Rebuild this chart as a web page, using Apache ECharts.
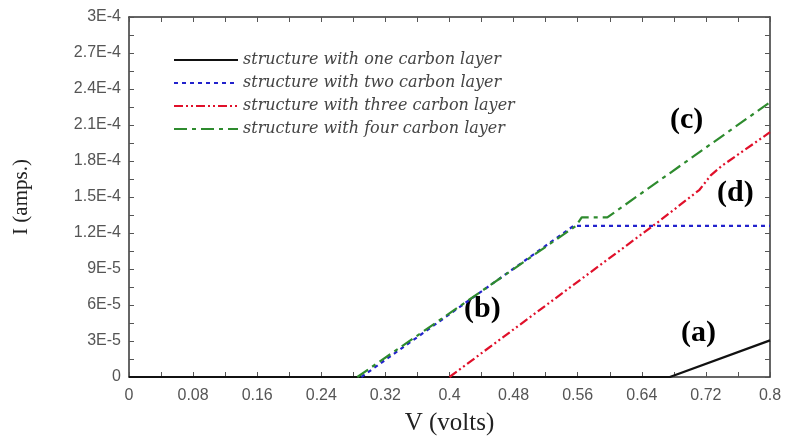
<!DOCTYPE html>
<html>
<head>
<meta charset="utf-8">
<script src="https://cdn.jsdelivr.net/npm/echarts@6/dist/echarts.min.js"></script>
<style>
  html, body { margin: 0; padding: 0; background: #fff; }
  #chart { width: 787px; height: 437px; }
</style>
</head>
<body>
<div id="chart"></div>
<script>
// values, [V, I]
var oneLayer = [[0, 0], [0.675, 0], [0.8, 3.05e-5]];
var twoLayer = [[0.29, 0], [0.555, 1.26e-4], [0.8, 1.26e-4]];
var threeLayer = [[0.4, 0], [0.662, 1.3e-4], [0.712, 1.56e-4], [0.726, 1.68e-4], [0.74, 1.76e-4], [0.8, 2.04e-4]];
var fourLayer = [[0.285, 0], [0.558, 1.26e-4], [0.565, 1.33e-4], [0.597, 1.33e-4], [0.8, 2.29e-4]];

var seriesNames = [
  'structure with one carbon layer',
  'structure with two carbon layer',
  'structure with three carbon layer',
  'structure with four carbon layer'
];
var xTickLabels = ['0', '0.08', '0.16', '0.24', '0.32', '0.4', '0.48', '0.56', '0.64', '0.72', '0.8'];
var yTickLabels = ['0', '3E-5', '6E-5', '9E-5', '1.2E-4', '1.5E-4', '1.8E-4', '2.1E-4', '2.4E-4', '2.7E-4', '3E-4'];

var chart = echarts.init(document.getElementById('chart'));

var axisLine = { show: true, onZero: false, lineStyle: { color: '#333', width: 1.5 } };
var axisTick = { show: true, inside: true, length: 5, lineStyle: { color: '#555' } };
var tickFont = { color: '#555', fontFamily: 'Liberation Sans, Arial', fontSize: 16 };

function xLabel(v) {
  var k = Math.round(v / 0.04);
  return k % 2 === 0 ? xTickLabels[k / 2] : '';
}
function yLabel(v) {
  var k = Math.round(v / 1.5e-5);
  return k % 2 === 0 ? yTickLabels[k / 2] : '';
}

function makeSeries(name, data, color, width, dash) {
  return {
    name: name,
    type: 'line',
    data: data,
    symbol: 'none',
    xAxisIndex: 0,
    yAxisIndex: 0,
    lineStyle: { color: color, width: width, type: dash },
    itemStyle: { color: color },
    z: 3
  };
}

var option = {
  backgroundColor: '#fff',
  animation: false,
  grid: { left: 129, right: 17, top: 17, bottom: 60, outerBoundsMode: 'none' },
  legend: {
    orient: 'vertical',
    left: 168,
    top: 47,
    itemWidth: 64,
    itemHeight: 12,
    itemGap: 7,
    data: seriesNames,
    itemStyle: { opacity: 0 },
    textStyle: { fontFamily: 'DejaVu Serif', fontStyle: 'italic', fontSize: 16, color: '#444' }
  },
  xAxis: [{
    type: 'value', min: 0, max: 0.8, interval: 0.04,
    name: 'V (volts)', nameLocation: 'middle', nameGap: 34,
    nameTextStyle: { fontFamily: 'Liberation Serif, Times New Roman', fontSize: 25, color: '#222' },
    axisLine: axisLine, axisTick: axisTick, splitLine: { show: false },
    axisLabel: Object.assign({ formatter: xLabel, margin: 11, showMinLabel: true, showMaxLabel: true }, tickFont)
  }, {
    type: 'value', min: 0, max: 0.8, interval: 0.04, position: 'top',
    axisLine: axisLine, axisTick: axisTick, splitLine: { show: false }, axisLabel: { show: false }
  }],
  yAxis: [{
    type: 'value', min: 0, max: 3e-4, interval: 1.5e-5,
    name: 'I (amps.)', nameLocation: 'middle', nameGap: 97, nameRotate: 90,
    nameTextStyle: { fontFamily: 'Liberation Serif, Times New Roman', fontSize: 21, color: '#222' },
    axisLine: axisLine, axisTick: axisTick, splitLine: { show: false },
    axisLabel: Object.assign({ formatter: yLabel, margin: 8 }, tickFont)
  }, {
    type: 'value', min: 0, max: 3e-4, interval: 1.5e-5, position: 'right',
    axisLine: axisLine, axisTick: axisTick, splitLine: { show: false }, axisLabel: { show: false }
  }],
  series: [
    makeSeries(seriesNames[0], oneLayer, '#111', 2.2, 'solid'),
    makeSeries(seriesNames[1], twoLayer, '#2222cc', 2.2, [4, 4]),
    makeSeries(seriesNames[2], threeLayer, '#e0102a', 2.2, [9, 3, 2, 3, 2, 3]),
    makeSeries(seriesNames[3], fourLayer, '#2e8b2e', 2.2, [13, 5, 4, 5])
  ],
  graphic: [
    { type: 'text', left: 681, top: 318, style: { text: '(a)', font: 'bold 30px "Liberation Serif"', fill: '#000' } },
    { type: 'text', left: 464, top: 294, style: { text: '(b)', font: 'bold 30px "Liberation Serif"', fill: '#000' } },
    { type: 'text', left: 670, top: 105, style: { text: '(c)', font: 'bold 30px "Liberation Serif"', fill: '#000' } },
    { type: 'text', left: 717, top: 178, style: { text: '(d)', font: 'bold 30px "Liberation Serif"', fill: '#000' } }
  ]
};

chart.setOption(option);
</script>
</body>
</html>
